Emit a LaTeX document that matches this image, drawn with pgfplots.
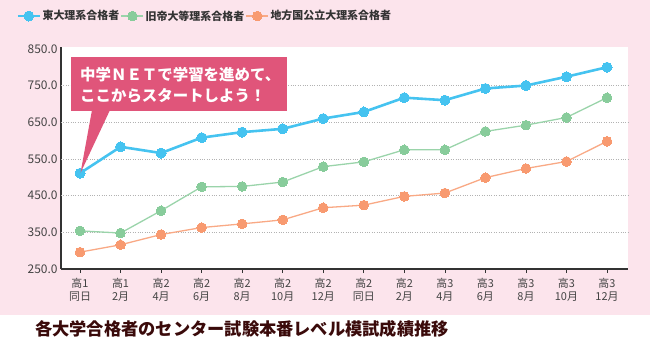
\documentclass[border=0pt]{standalone}
\usepackage{fontspec}
\setmainfont{Noto Sans CJK JP}
\usepackage{pgfplots}
\pgfplotsset{compat=1.18}
\definecolor{bgpink}{HTML}{FCE4EC}
\definecolor{cblue}{HTML}{45C3F0}
\definecolor{cgreen}{HTML}{88CC9B}
\definecolor{corange}{HTML}{F89A70}
\definecolor{callout}{HTML}{E0557A}
\definecolor{titlec}{HTML}{3A0A0A}
\definecolor{tickc}{HTML}{444444}
\definecolor{legc}{HTML}{333333}
\begin{document}
\begin{tikzpicture}[x=1bp,y=1bp]
\fill[white] (0,0) rectangle (650,-353);
\useasboundingbox (0,0) rectangle (650,-353);
\fill[bgpink] (0,0) rectangle (650,-315);
\begin{axis}[
  at={(61bp,-269bp)}, anchor=south west,
  scale only axis, width=567bp, height=222bp,
  xmin=-0.469, xmax=13.518, ymin=250, ymax=855,
  axis background/.style={fill=white},
  axis x line*=bottom, axis y line*=left,
  axis line style={draw=black!80, line width=1.1pt, -},
  xtick={0,...,13},
  xticklabels={{高1\\同日},{高1\\2月},{高2\\4月},{高2\\6月},{高2\\8月},{高2\\10月},{高2\\12月},{高2\\同日},{高2\\2月},{高3\\4月},{高3\\6月},{高3\\8月},{高3\\10月},{hi}},
  xticklabels={{高1\\同日},{高1\\2月},{高2\\4月},{高2\\6月},{高2\\8月},{高2\\10月},{高2\\12月},{高2\\同日},{高2\\2月},{高3\\4月},{高3\\6月},{高3\\8月},{高3\\10月},{高3\\12月}},
  xticklabel style={font=\fontsize{11}{13.5}\selectfont, text=tickc, align=center, yshift=-1.5bp},
  xtick style={draw=black!80, line width=0.7pt},
  xtick align=outside,
  major tick length=4bp,
  ytick={250,350,...,850},
  ytick style={draw=none},
  yticklabel style={font=\fontsize{12}{14}\selectfont, text=tickc,
    /pgf/number format/.cd, fixed, fixed zerofill, precision=1, assume math mode=true},
  extra y ticks={350,450,550,650,750},
  extra y tick labels={},
  extra y tick style={grid=major, tick style={draw=none}},
  major grid style={dotted, draw=black!30, line width=0.7pt},
  legend columns=3,
  legend style={draw=none, fill=none, inner sep=0pt, outer sep=0pt,
    at={(-0.0785,1.1396)}, anchor=west,
    nodes={inner sep=1.5bp},
    font=\bfseries\fontsize{11}{13}\selectfont, text=legc},
  legend image code/.code={
    \draw[mark repeat=2,mark phase=2,#1] plot coordinates {(0bp,0bp) (11bp,0bp) (22bp,0bp)};
  },
]
\addplot[cblue, line width=2.6pt, mark=*, mark size=5bp, mark options={line width=0pt, fill=cblue, draw=cblue}]
coordinates {(0,511)(1,583)(2,566)(3,608)(4,623)(5,632)(6,660)(7,678)(8,717)(9,710)(10,742)(11,750)(12,774)(13,800)};
\addlegendentry{東大理系合格者\hspace{7bp}}
\addplot[cgreen!85, line width=1.3pt, mark=*, mark size=4.8bp, mark options={line width=0pt, fill=cgreen, draw=cgreen}]
coordinates {(0,354)(1,348)(2,409)(3,474)(4,475)(5,487)(6,529)(7,542)(8,575)(9,575)(10,625)(11,642)(12,663)(13,717)};
\addlegendentry{旧帝大等理系合格者\hspace{61bp}}
\addplot[corange!85, line width=1.3pt, mark=*, mark size=4.8bp, mark options={line width=0pt, fill=corange, draw=corange}]
coordinates {(0,296)(1,316)(2,344)(3,363)(4,373)(5,384)(6,417)(7,424)(8,448)(9,457)(10,499)(11,524)(12,543)(13,598)};
\addlegendentry{地方国公立大理系合格者}
\end{axis}
% callout
\fill[callout] (71,-57) rectangle (287,-111);
\fill[callout] (92,-110) -- (80.5,-173) -- (110,-110) -- cycle;
\node[anchor=west, inner sep=0pt, text=white, font=\bfseries\fontsize{15.5}{18}\selectfont] at (80,-75) {中学ＮＥＴで学習を進めて、};
\node[anchor=west, inner sep=0pt, text=white, font=\bfseries\fontsize{15.5}{18}\selectfont] at (80,-96) {ここからスタートしよう！};
% title
\node[anchor=west, inner sep=0pt, text=titlec, font=\bfseries\fontsize{17.3}{20}\selectfont] at (35,-329) {各大学合格者のセンター試験本番レベル模試成績推移};
\end{tikzpicture}
\end{document}
